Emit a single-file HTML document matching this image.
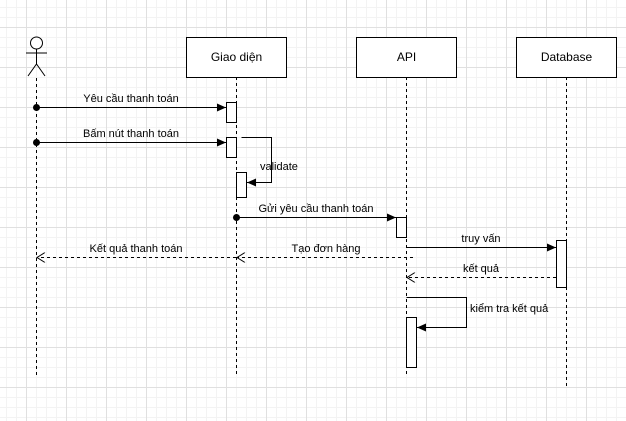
<!DOCTYPE html>
<html><head><meta charset="utf-8"><style>
html,body{margin:0;padding:0;background:#fff}
svg{display:block}
text{font-family:"Liberation Sans",Arial,sans-serif;font-size:11px;fill:#000}
</style></head><body>
<svg width="626" height="421" viewBox="0 0 626 421" xmlns="http://www.w3.org/2000/svg">
<defs>
<pattern id="minor" width="10" height="10" patternUnits="userSpaceOnUse" x="6" y="7">
<path d="M0 0.5H10M0.5 0V10" stroke="#f3f3f3" stroke-width="1" fill="none"/>
</pattern>
<pattern id="major" width="40" height="40" patternUnits="userSpaceOnUse" x="26" y="27">
<path d="M0 0.5H40M0.5 0V40" stroke="#e0e0e0" stroke-width="1" fill="none"/>
</pattern>
<marker id="fa" markerWidth="10" markerHeight="8" refX="9" refY="4" orient="auto" markerUnits="userSpaceOnUse">
<path d="M0 0L9 4L0 8Z" fill="#000"/></marker>
<marker id="oa" markerWidth="10" markerHeight="10" refX="9" refY="5" orient="auto" markerUnits="userSpaceOnUse">
<path d="M1 0L9 5L1 10" fill="none" stroke="#000"/></marker>
</defs>
<rect width="626" height="421" fill="url(#minor)"/>
<rect width="626" height="421" fill="url(#major)"/>
<g stroke="#000" fill="none">
<circle cx="36.5" cy="43" r="6" fill="#fff"/>
<path d="M36.5 49V64M26 53H47M28 76L36.5 64L45 76"/>
<g stroke-dasharray="3,3">
<path d="M36.5 78V376M236.5 77V376M406.5 77V376M566.5 77V386"/>
</g>
<rect x="186.5" y="37.5" width="100" height="40" fill="#fff"/>
<rect x="356.5" y="37.5" width="100" height="40" fill="#fff"/>
<rect x="516.5" y="37.5" width="100" height="40" fill="#fff"/>
<rect x="226.5" y="102.5" width="10" height="20" fill="#fff"/>
<rect x="226.5" y="137.5" width="10" height="20" fill="#fff"/>
<rect x="236.5" y="172.5" width="10" height="25" fill="#fff"/>
<rect x="396.5" y="217.5" width="10" height="20" fill="#fff"/>
<rect x="556.5" y="240.5" width="10" height="47" fill="#fff"/>
<rect x="406.5" y="317.5" width="10" height="50" fill="#fff"/>
<path d="M36.5 107.5H226" marker-end="url(#fa)"/>
<path d="M36.5 142.5H226" marker-end="url(#fa)"/>
<path d="M241.5 137.5H271.5V182.5H247" marker-end="url(#fa)"/>
<path d="M236.5 217.5H396" marker-end="url(#fa)"/>
<path d="M406.5 247.5H556" marker-end="url(#fa)"/>
<path d="M556 277.5H407" stroke-dasharray="3,3" marker-end="url(#oa)"/>
<path d="M413 257.5H237" stroke-dasharray="3,3" marker-end="url(#oa)"/>
<path d="M236 257.5H37" stroke-dasharray="3,3" marker-end="url(#oa)"/>
<path d="M406.5 297.5H466.5V327.5H417" marker-end="url(#fa)"/>
</g>
<g fill="#000">
<circle cx="36.5" cy="107.5" r="3.5"/>
<circle cx="36.5" cy="142.5" r="3.5"/>
<circle cx="236.5" cy="217.5" r="3.5"/>
</g>
<text x="236.5" y="61" text-anchor="middle" style="font-size:12px">Giao diện</text>
<text x="406.5" y="61" text-anchor="middle" style="font-size:12px">API</text>
<text x="566.5" y="61" text-anchor="middle" style="font-size:12px">Database</text>
<text x="131" y="102" text-anchor="middle">Yêu cầu thanh toán</text>
<text x="131" y="137" text-anchor="middle">Bấm nút thanh toán</text>
<text x="260" y="170">validate</text>
<text x="316" y="212" text-anchor="middle">Gửi yêu cầu thanh toán</text>
<text x="481" y="242" text-anchor="middle">truy vấn</text>
<text x="481" y="272" text-anchor="middle">kết quả</text>
<text x="136" y="252" text-anchor="middle">Kết quả thanh toán</text>
<text x="326" y="252" text-anchor="middle">Tạo đơn hàng</text>
<text x="470" y="312">kiểm tra kết quả</text>
</svg>
</body></html>
